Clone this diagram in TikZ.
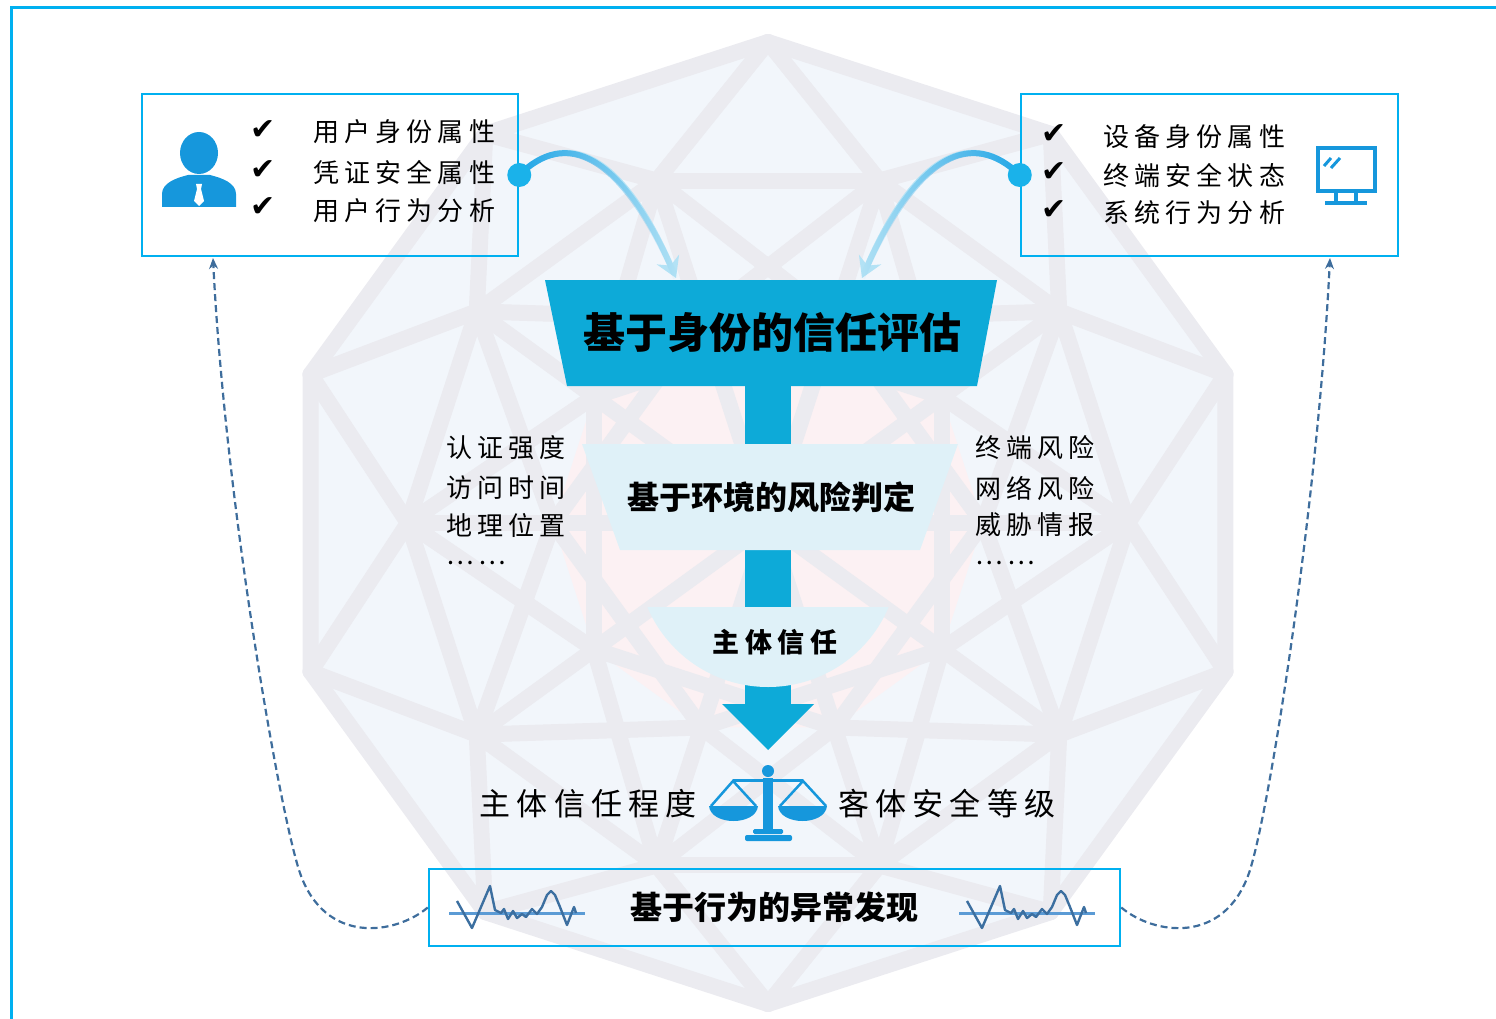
\documentclass[tikz,border=0pt]{standalone}
\usepackage{fontspec}
\setmainfont{Noto Sans CJK SC}
\newfontfamily\cjkwide[LetterSpace=20]{Noto Sans CJK SC}
\newfontfamily\symbolfont{DejaVu Sans}
\usetikzlibrary{positioning,arrows.meta,fadings}

\definecolor{framecyan}{HTML}{00B0F0}
\definecolor{funnelblue}{HTML}{0DAAD8}
\definecolor{funnellight}{HTML}{DFF1F8}
\definecolor{iconblue}{HTML}{1697DC}
\definecolor{geoline}{HTML}{EBEBF0}
\definecolor{geofill}{HTML}{F2F6FB}
\definecolor{geopink}{HTML}{FCF1F3}
\definecolor{wavedark}{HTML}{3C6FA0}
\definecolor{wavebase}{HTML}{5B9BD5}
\definecolor{feedbackblue}{HTML}{3E6D9C}
\definecolor{curvelight}{HTML}{B3E2F5}
\definecolor{curvedark}{HTML}{1FA5E6}

\tikzfading[name=fadeout right, left color=transparent!0, right color=transparent!100]
\tikzfading[name=fadeout left, left color=transparent!100, right color=transparent!0]

\tikzset{
  geo/.style={draw=geoline, line width=16, line cap=round, line join=round},
  infobox/.style={draw=framecyan, line width=2.5, inner sep=0, minimum height=162},
  listtext/.style={anchor=west, inner sep=0, font=\cjkwide\fontsize{26}{28}\selectfont},
  sidetext/.style={anchor=west, inner sep=0, font=\cjkwide\fontsize{26}{28}\selectfont},
  tick/.style={inner sep=0, font=\symbolfont\fontsize{30}{32}\selectfont},
  heading/.style={inner sep=0, font=\bfseries\fontsize{32}{36}\selectfont},
  feedback/.style={draw=feedbackblue, line width=2.2, dash pattern=on 7pt off 4pt},
  swoosh/.style={line width=6},
  wave/.style={draw=wavedark, line width=2.4, line join=round},
  waveline/.style={draw=wavebase, line width=3}
}

\begin{document}
\begin{tikzpicture}[x=1pt,y=-1pt]
\useasboundingbox (0,0) rectangle (1496,1019);

% faint geodesic ball in the back
\begin{scope}[shift={(768,523)}]
  \fill[geofill] (18:481) \foreach \a in {54,90,...,342} {-- (\a:481)} -- cycle;
  \fill[geopink] (0:215) \foreach \a in {36,72,...,324} {-- (\a:215)} -- cycle;
  \foreach \a in {0,36,...,324} {
    \draw[geo] (\a-18:481) -- (\a:360) -- (\a+18:481);
    \draw[geo] (\a:360) -- (\a+36:360);
    \draw[geo] (\a:360) -- (\a:215);
    \draw[geo] (\a:360) -- (\a+36:215);
    \draw[geo] (\a+36:360) -- (\a:215);
    \draw[geo] (\a:215) -- (\a+72:215);
    \draw[geo] (0,0) -- (\a:215);
  }
  \draw[geo] (18:481) \foreach \a in {54,90,...,342} {-- (\a:481)} -- cycle;
\end{scope}

% frame
\draw[framecyan, line width=3] (1496,8) -- (11,8) -- (11,1019);

% user box
\node[infobox, minimum width=376] (ubox) at (330,175) {};
\fill[iconblue] (199,153) ellipse [x radius=19, y radius=21];
\fill[iconblue] (162,207) -- (162,194) .. controls (162,183) and (176,178) .. (188,175)
  -- (210,175) .. controls (222,178) and (236,183) .. (236,194) -- (236,207) -- cycle;
\fill[white] (196,184) -- (202,184) -- (201,189) -- (204,201) -- (199,206) -- (194,201) -- (197,189) -- cycle;
\node[tick] (uck1) at (263,130) {✔};
\node[tick] (uck2) at (263,170) {✔};
\node[tick] (uck3) at (263,207) {✔};
\node[listtext] (u1) at (313,132) {用户身份属性};
\node[listtext] (u2) at (313,172) {凭证安全属性};
\node[listtext] (u3) at (313,211) {用户行为分析};

% device box
\node[infobox, minimum width=377] (dbox) at (1209.5,175) {};
\node[tick] (dck1) at (1054,134) {✔};
\node[tick] (dck2) at (1054,172) {✔};
\node[tick] (dck3) at (1054,210) {✔};
\node[listtext] (d1) at (1103,137) {设备身份属性};
\node[listtext] (d2) at (1103,176) {终端安全状态};
\node[listtext] (d3) at (1103,213) {系统行为分析};
\draw[iconblue, line width=4.5] (1318,148) rectangle (1375,191);
\draw[iconblue, line width=3] (1324,166) -- (1331,158) (1331,168) -- (1340,158);
\draw[iconblue, line width=4] (1336,191) -- (1336,203) (1356,191) -- (1356,203);
\draw[iconblue, line width=4] (1325,203) -- (1367,203);

% funnel
\fill[funnelblue] (745,380) rectangle (791,706);
\fill[funnelblue] (545,280) -- (997,280) -- (977,386) -- (567,386) -- cycle;
\node[inner sep=0, font=\bfseries\fontsize{42}{46}\selectfont] (idtrust) at (772,333) {基于身份的信任评估};
\fill[funnellight] (582,444) -- (958,444) -- (920,550) -- (620,550) -- cycle;
\node[heading] (envrisk) at (771,497) {基于环境的风险判定};
\begin{scope}
  \clip (600,607) rectangle (940,700);
  \fill[funnellight] (768,556) circle (131pt);
\end{scope}
\node[inner sep=0, font=\cjkwide\bfseries\fontsize{27}{30}\selectfont] (subtrust) at (775,642) {主体信任};
\fill[funnelblue] (722,704) -- (814,704) -- (768,750) -- cycle;

% side factors
\node[sidetext] (l1) at (446,448) {认证强度};
\node[sidetext] (l2) at (446,488) {访问时间};
\node[sidetext] (l3) at (446,525) {地理位置};
\node[sidetext] (l4) at (446,563) {……};
\node[sidetext] (r1) at (975,448) {终端风险};
\node[sidetext] (r2) at (975,488) {网络风险};
\node[sidetext] (r3) at (975,525) {威胁情报};
\node[sidetext] (r4) at (975,563) {……};

% balance
\fill[iconblue] (768,771) circle (6pt);
\draw[iconblue, line width=3] (733,780) -- (803,780);
\fill[iconblue] (763,778) rectangle (773,831);
\fill[iconblue, rounded corners=1.5] (753,829) rectangle (783,834);
\fill[iconblue, rounded corners=2] (745,835) rectangle (792,841);
\draw[iconblue, line width=2.5] (711,806) -- (733,781) -- (756,806);
\fill[iconblue] (709,806) .. controls (711,826) and (756,826) .. (758,806) -- cycle;
\draw[iconblue, line width=2.5] (780,806) -- (803,781) -- (826,806);
\fill[iconblue] (778,806) .. controls (780,826) and (825,826) .. (827,806) -- cycle;
\node[anchor=east, inner sep=0, font=\cjkwide\fontsize{31}{34}\selectfont] (subj) at (697,804) {主体信任程度};
\node[anchor=west, inner sep=0, font=\cjkwide\fontsize{31}{34}\selectfont] (obj) at (838,804) {客体安全等级};

% behaviour box
\node[draw=framecyan, line width=2.5, minimum width=691, minimum height=77, inner sep=0, heading] (bbox) at (774.5,907.5) {基于行为的异常发现};
\draw[waveline] (449,913) -- (585,913);
\draw[wave] (457,901) -- (472,928) -- (490,886) -- (495,910) -- (501,913) -- (504,909) -- (508,919) -- (513,911)
  -- (517,918) -- (522,914) -- (526,917) -- (532,909) -- (537,914) -- (542,907) -- (547,895) -- (551,891)
  -- (555,895) -- (560,907) -- (567,925) -- (574,907) -- (576,913);
\begin{scope}[xshift=510]
  \draw[waveline] (449,913) -- (585,913);
  \draw[wave] (457,901) -- (472,928) -- (490,886) -- (495,910) -- (501,913) -- (504,909) -- (508,919) -- (513,911)
    -- (517,918) -- (522,914) -- (526,917) -- (532,909) -- (537,914) -- (542,907) -- (547,895) -- (551,891)
    -- (555,895) -- (560,907) -- (567,925) -- (574,907) -- (576,913);
\end{scope}

% inputs into the funnel
\coordinate (lend) at (676,278);
\coordinate (rend) at (862,278);
\draw[swoosh, curvelight, -{Stealth[length=20pt,width=24pt]}] (ubox.east) .. controls (565,130) and (620,150) .. (lend);
\draw[swoosh, curvedark, path fading=fadeout right] (ubox.east) .. controls (565,130) and (620,150) .. (lend);
\draw[swoosh, curvelight, -{Stealth[length=20pt,width=24pt]}] (dbox.west) .. controls (973,130) and (918,150) .. (rend);
\draw[swoosh, curvedark, path fading=fadeout left] (dbox.west) .. controls (973,130) and (918,150) .. (rend);
\node[circle, fill=curvedark!85!cyan, minimum size=24, inner sep=0] (ldot) at (ubox.east) {};
\node[circle, fill=curvedark!85!cyan, minimum size=24, inner sep=0] (rdot) at (dbox.west) {};

% feedback loops
\coordinate (ufoot) at (213,258);
\coordinate (dfoot) at (1330,258);
\draw[feedback, -{Stealth[length=11pt,width=9pt]}] (bbox.west) .. controls (395,935) and (325,945) .. (300,873)
  .. controls (280,815) and (225,500) .. (ufoot);
\draw[feedback, -{Stealth[length=11pt,width=9pt]}] (bbox.east) .. controls (1154,935) and (1224,945) .. (1249,873)
  .. controls (1269,815) and (1318,500) .. (dfoot);
\end{tikzpicture}
\end{document}
